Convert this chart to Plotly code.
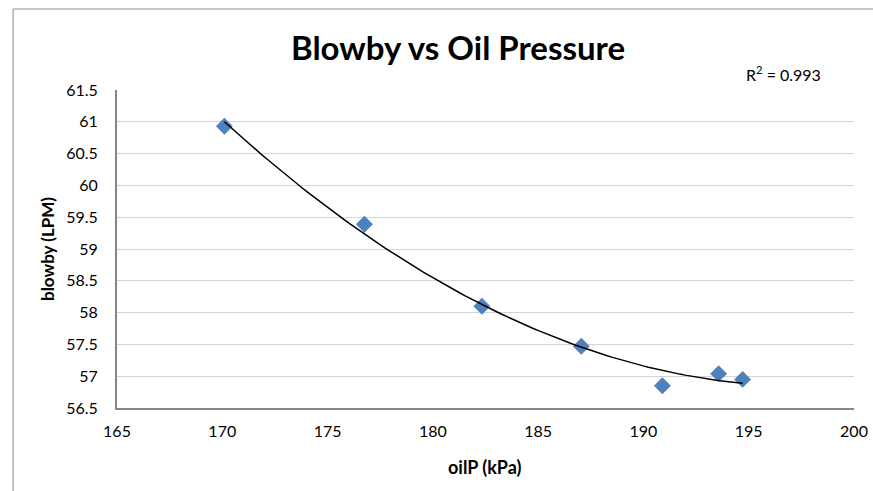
import numpy as np
import plotly.graph_objects as go

oil_p = [170.1, 176.75, 182.33, 187.05, 190.9, 193.57, 194.71]
blowby = [60.93, 59.39, 58.10, 57.47, 56.85, 57.04, 56.95]
x_ticks = [165, 170, 175, 180, 185, 190, 195, 200]
y_ticks = [56.5, 57, 57.5, 58, 58.5, 59, 59.5, 60, 60.5, 61, 61.5]
r2_label = "R<sup>2</sup> = 0.993"
x_title = "<b>oilP (kPa)</b>"
y_title = "<b>blowby (LPM)</b>"

coef = np.polyfit(oil_p, blowby, 2)
xs = np.linspace(min(oil_p), max(oil_p), 100)
ys = np.polyval(coef, xs)

FONT = "Lato"
fig = go.Figure()
fig.add_trace(go.Scatter(x=oil_p, y=blowby, mode="markers",
                         marker=dict(symbol="diamond", size=13, color="#4F81BD"),
                         showlegend=False))
fig.add_trace(go.Scatter(x=xs, y=ys, mode="lines",
                         line=dict(color="black", width=1.5), showlegend=False))

W, H = 873, 491
fig.update_layout(
    width=W, height=H,
    margin=dict(l=117, r=19, t=90, b=83, autoexpand=False),
    paper_bgcolor="white", plot_bgcolor="white",
    font=dict(family=FONT, color="black", size=16),
    title=dict(text="<b>Blowby vs Oil Pressure</b>", x=458 / W, xref="container",
               y=1 - 48 / H, yref="container", xanchor="center", yanchor="middle",
               font=dict(size=33, family=FONT)),
    xaxis=dict(range=[165, 200], tickvals=x_ticks, showgrid=False,
               showline=True, linecolor="#868686", linewidth=2, ticks="",
               zeroline=False, tickfont=dict(size=16), ticklabelstandoff=8,
               ticklabeloverflow="allow"),
    yaxis=dict(range=[56.5, 61.5], tickvals=y_ticks, ticktext=[f"{v:g}" for v in y_ticks],
               showgrid=True, gridcolor="#D4D4D4", gridwidth=1.3,
               showline=True, linecolor="#868686", linewidth=2, ticks="",
               zeroline=False, tickfont=dict(size=16), ticklabelstandoff=14),
    shapes=[dict(type="rect", xref="paper", yref="paper",
                 x0=-0.141, x1=1.2, y0=-0.5, y1=1.2547,
                 line=dict(color="#8C8C8C", width=1), layer="below")],
    annotations=[
        dict(text=r2_label, x=0.904, y=1.053, xref="paper", yref="paper",
             showarrow=False, xanchor="center", yanchor="middle", font=dict(size=16)),
        dict(text=x_title, x=(485 - 117) / 737, y=-(467 - 408) / 318,
             xref="paper", yref="paper", showarrow=False,
             xanchor="center", yanchor="middle", font=dict(size=18)),
        dict(text=y_title, x=-(117 - 47) / 737, y=0.5, textangle=-90,
             xref="paper", yref="paper", showarrow=False,
             xanchor="center", yanchor="middle", font=dict(size=17)),
    ],
)

fig.write_html("out.html", config={"displayModeBar": False},
               post_script="document.body.style.margin='0';"
                           "document.body.style.overflow='hidden';")
